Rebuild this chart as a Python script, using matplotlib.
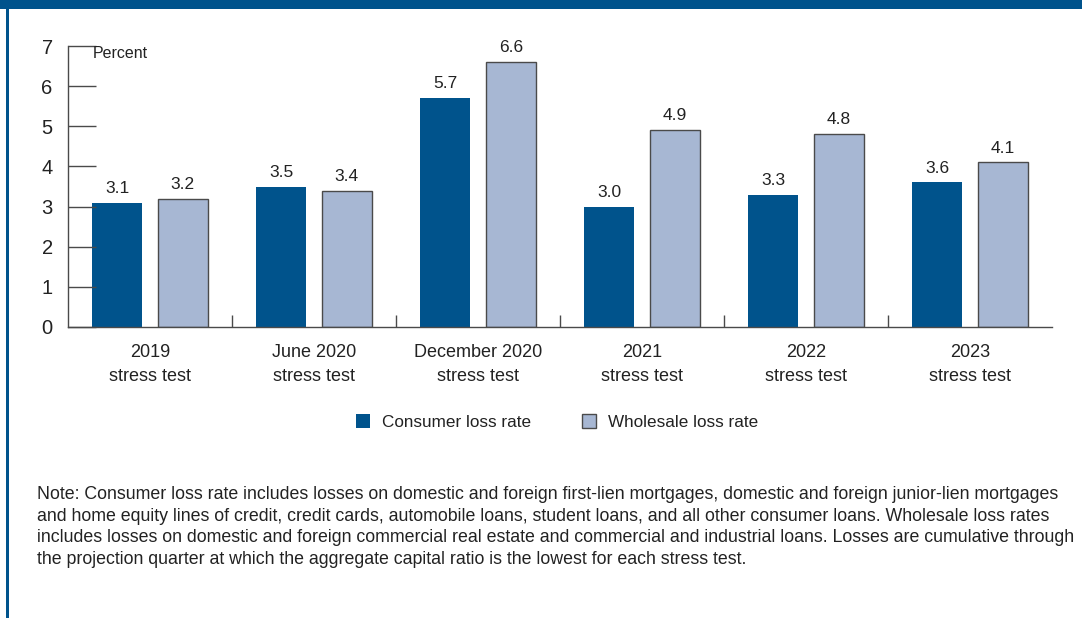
import matplotlib.pyplot as plt
import numpy as np
from matplotlib.patches import Rectangle

CONSUMER = "#00538C"
WHOLESALE = "#A7B7D3"
EDGE = "#4a4a4a"
TEXT = "#222222"

groups = ["2019\nstress test", "June 2020\nstress test", "December 2020\nstress test",
          "2021\nstress test", "2022\nstress test", "2023\nstress test"]
consumer = [3.1, 3.5, 5.7, 3.0, 3.3, 3.6]
wholesale = [3.2, 3.4, 6.6, 4.9, 4.8, 4.1]
yticks = [0, 1, 2, 3, 4, 5, 6, 7]

note = ("Note: Consumer loss rate includes losses on domestic and foreign first-lien mortgages, domestic and foreign junior-lien mortgages\n"
        "and home equity lines of credit, credit cards, automobile loans, student loans, and all other consumer loans. Wholesale loss rates\n"
        "includes losses on domestic and foreign commercial real estate and commercial and industrial loans. Losses are cumulative through\n"
        "the projection quarter at which the aggregate capital ratio is the lowest for each stress test.")

plt.rcParams["font.family"] = ["Liberation Sans", "DejaVu Sans"]

fig = plt.figure(figsize=(10.82, 6.18), dpi=100)
fig.patch.set_facecolor("white")

# frame: top band and left rule
fig.add_artist(Rectangle((0, 1 - 9 / 618), 1, 9 / 618, transform=fig.transFigure,
                         color=CONSUMER, lw=0))
fig.add_artist(Rectangle((6 / 1082, 0), 3 / 1082, 1, transform=fig.transFigure,
                         color=CONSUMER, lw=0))

ax = fig.add_axes([68 / 1082, 1 - 327 / 618, 984 / 1082, 281 / 618])
x = np.arange(len(groups)) + 0.5
w = 0.305
ax.bar(x - 0.2, consumer, w, color=CONSUMER, lw=0, label="Consumer loss rate")
ax.bar(x + 0.2, wholesale, w, color=WHOLESALE, edgecolor=EDGE, lw=1.0,
       label="Wholesale loss rate")
for xi, v in zip(x - 0.2, consumer):
    ax.text(xi, v + 0.17, f"{v:.1f}", ha="center", va="bottom", fontsize=12.5, color=TEXT)
for xi, v in zip(x + 0.2, wholesale):
    ax.text(xi, v + 0.17, f"{v:.1f}", ha="center", va="bottom", fontsize=12.5, color=TEXT)

ax.set_xlim(0, len(groups))
ax.set_ylim(0, 7)
for s in ["top", "right"]:
    ax.spines[s].set_visible(False)
for s in ["left", "bottom"]:
    ax.spines[s].set_color(EDGE)
    ax.spines[s].set_linewidth(1.0)

ax.set_yticks(yticks)
ax.tick_params(axis="y", direction="in", length=20, width=1.0, color=EDGE,
               labelsize=14.5, labelcolor=TEXT, pad=11)
ax.set_xticks(np.arange(1, len(groups)))
ax.set_xticklabels([])
ax.tick_params(axis="x", direction="in", length=9, width=1.0, color=EDGE)
for xi, g in zip(x, groups):
    ax.text(xi, -0.42, g, ha="center", va="top", fontsize=13, color=TEXT,
            linespacing=1.55, transform=ax.transData)
ax.text(93 / 1082, 1 - 53 / 618, "Percent", transform=fig.transFigure,
        fontsize=11.5, color=TEXT, va="center")

ax.legend(loc="center", bbox_to_anchor=(557 / 1082, 1 - 422 / 618),
          bbox_transform=fig.transFigure, ncol=2, frameon=False, fontsize=12.3,
          handlelength=0.82, handleheight=0.82, columnspacing=3.0, handletextpad=0.7,
          labelcolor=TEXT)

fig.text(37 / 1082, 1 - 486 / 618, note, fontsize=12.8, color=TEXT, va="top",
         ha="left", linespacing=1.36)

fig.savefig("out.png", dpi=100)
